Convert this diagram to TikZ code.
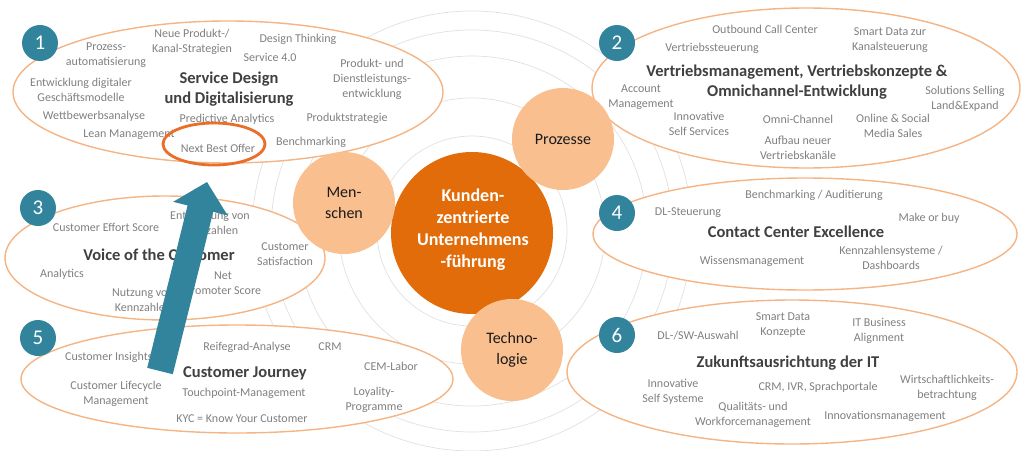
\documentclass[tikz,border=0pt]{standalone}
\usepackage{fontspec}
\setmainfont{Carlito}
\usetikzlibrary{shapes.geometric,calc}
\definecolor{mainorange}{RGB}{227,108,10}
\definecolor{peach}{RGB}{249,191,143}
\definecolor{edgeorange}{RGB}{245,180,132}
\definecolor{nboorange}{RGB}{233,110,40}
\definecolor{badgeteal}{RGB}{49,132,155}
\definecolor{txtgray}{RGB}{128,128,128}
\definecolor{ttlgray}{RGB}{64,64,64}
\definecolor{ringgray}{RGB}{224,224,224}
\definecolor{darktxt}{RGB}{26,26,26}
\begin{document}
\begin{tikzpicture}[x=1pt,y=-1pt,
  lbl/.style={text=txtgray, font=\fontsize{12}{15}\selectfont, align=center, inner sep=0pt},
  ttl/.style={text=ttlgray, font=\fontsize{16.5}{20}\selectfont\bfseries, align=center, inner sep=0pt},
  field/.style={ellipse, draw=edgeorange, line width=1.4pt, fill=white, inner sep=0pt},
  badge/.style={circle, fill=badgeteal, text=white, minimum size=36pt, inner sep=0pt, font=\fontsize{21}{21}\selectfont},
  pillar/.style={circle, fill=peach, minimum size=102pt, inner sep=0pt, align=center, font=\fontsize{16}{21}\selectfont, text=darktxt},
  ring/.style={draw=ringgray, line width=0.7pt}]
\useasboundingbox (0,0) rectangle (1024,450);
\clip (0,0) rectangle (1024,450);
% background rings
\coordinate (rc) at (472,231);
\foreach \r in {95,133,175,201,220} {\draw[ring] (rc) circle[radius=\r pt];}
% fields
\node[field, minimum width=430pt, minimum height=142pt] (e1) at (228,92) {};
\node[field, minimum width=428pt, minimum height=160pt] (e2) at (806,88) {};
\node[field, minimum width=320pt, minimum height=124pt] (e3) at (165,258) {};
\node[field, minimum width=424pt, minimum height=112pt] (e4) at (805,234) {};
\node[field, minimum width=432pt, minimum height=108pt] (e5) at (237,379) {};
\node[field, minimum width=450pt, minimum height=144pt] (e6) at (792,372) {};
% field 1
\node[lbl] (a1) at (106,55) {Prozess-\\automatisierung};
\node[lbl] (a2) at (192,42) {Neue Produkt-/\\Kanal-Strategien};
\node[lbl] (a3) at (298,39) {Design Thinking};
\node[lbl] (a4) at (270,57) {Service 4.0};
\node[lbl] (a5) at (372,79) {Produkt- und\\Dienstleistungs-\\entwicklung};
\node[lbl] (a6) at (81,90) {Entwicklung digitaler\\Geschäftsmodelle};
\node[ttl] (at) at (229,89) {Service Design\\und Digitalisierung};
\node[lbl] (a7) at (94,116) {Wettbewerbsanalyse};
\node[lbl] (a8) at (227,119) {Predictive Analytics};
\node[lbl] (a9) at (347,118) {Produktstrategie};
\node[lbl] (a10) at (129,135) {Lean Management};
\node[lbl] (a11) at (218,148) {Next Best Offer};
\node[lbl] (a12) at (311,142) {Benchmarking};
\node[ellipse, draw=nboorange, line width=2.8pt, minimum width=102pt, minimum height=42pt, inner sep=0pt] (nbo) at (214,144) {};
% field 2
\node[lbl] (b1) at (765,29) {Outbound Call Center};
\node[lbl] (b2) at (890,40) {Smart Data zur\\Kanalsteuerung};
\node[lbl] (b3) at (712,48) {Vertriebssteuerung};
\node[ttl] (bt) at (797,82) {Vertriebsmanagement, Vertriebskonzepte \&\\Omnichannel-Entwicklung};
\node[lbl] (b4) at (641,97) {Account\\Management};
\node[lbl] (b5) at (965,99) {Solutions Selling\\Land\&Expand};
\node[lbl] (b6) at (699,124) {Innovative\\Self Services};
\node[lbl] (b7) at (798,119) {Omni-Channel};
\node[lbl] (b8) at (893,126) {Online \& Social\\Media Sales};
\node[lbl] (b9) at (798,148) {Aufbau neuer\\Vertriebskanäle};
% field 3
\node[lbl] (c1) at (106,227) {Customer Effort Score};
\node[lbl] (c2) at (210,223) {Entwicklung von\\Kennzahlen};
\node[ttl] (ct) at (159,255) {Voice of the Customer};
\node[lbl] (c3) at (285,254) {Customer\\Satisfaction};
\node[lbl] (c4) at (62,274) {Analytics};
\node[lbl] (c5) at (223,283) {Net\\Promoter Score};
\node[lbl] (c6) at (143,300) {Nutzung von\\Kennzahlen};
% field 4
\node[lbl] (d1) at (814,195) {Benchmarking / Auditierung};
\node[lbl] (d2) at (688,213) {DL-Steuerung};
\node[lbl] (d3) at (929,218) {Make or buy};
\node[ttl] (dt) at (796,232) {Contact Center Excellence};
\node[lbl] (d4) at (752,261) {Wissensmanagement};
\node[lbl] (d5) at (891,258) {Kennzahlensysteme /\\Dashboards};
% field 5
\node[lbl, anchor=west] (f1) at (65,357) {Customer Insights};
\node[lbl] (f2) at (247,347) {Reifegrad-Analyse};
\node[lbl] (f3) at (330,347) {CRM};
\node[lbl] (f4) at (391,366) {CEM-Labor};
\node[ttl] (ft) at (245,373) {Customer Journey};
\node[lbl] (f5) at (116,394) {Customer Lifecycle\\Management};
\node[lbl] (f6) at (244,393) {Touchpoint-Management};
\node[lbl] (f7) at (374,400) {Loyality-\\Programme};
\node[lbl] (f8) at (242,419) {KYC = Know Your Customer};
% field 6
\node[lbl] (g1) at (698,336) {DL-/SW-Auswahl};
\node[lbl] (g2) at (783,325) {Smart Data\\Konzepte};
\node[lbl] (g3) at (879,331) {IT Business\\Alignment};
\node[ttl] (gt) at (788,363) {Zukunftsausrichtung der IT};
\node[lbl] (g4) at (673,392) {Innovative\\Self Systeme};
\node[lbl] (g5) at (818,387) {CRM, IVR, Sprachportale};
\node[lbl] (g6) at (947,388) {Wirtschaftlichkeits-\\betrachtung};
\node[lbl] (g7) at (753,415) {Qualitäts- und\\Workforcemanagement};
\node[lbl] (g8) at (885,416) {Innovationsmanagement};
% core and pillars
\node[circle, fill=mainorange, minimum size=162pt, inner sep=0pt] (core) at (472,233) {};
\node[text=white, font=\fontsize{18}{22}\selectfont\bfseries, align=center, inner sep=0pt] (coretxt) at (473,230) {Kunden-\\zentrierte\\Unternehmens\\-führung};
\node[pillar] (men) at (344,203) {Men-\\schen};
\node[pillar] (pro) at (563,139) {Prozesse};
\node[pillar] (tec) at (512,350) {Techno-\\logie};
% badges
\node[badge] (n1) at (40,43) {1};
\node[badge] (n2) at (617,43) {2};
\node[badge] (n3) at (38,208) {3};
\node[badge] (n4) at (617,213) {4};
\node[badge] (n5) at (38,338) {5};
\node[badge] (n6) at (617,335) {6};
% big arrow
\coordinate (tailL) at (147.2,367.8);
\coordinate (tailR) at (172.8,374.2);
\coordinate (shaftL) at (187.6,205.4);
\coordinate (shaftR) at (213.2,211.8);
\coordinate (barbL) at (173.2,201.8);
\coordinate (barbR) at (227.6,215.4);
\coordinate (tip) at (207,182);
\fill[badgeteal] (tailL) -- (shaftL) -- (barbL) -- (tip) -- (barbR) -- (shaftR) -- (tailR) -- cycle;
\end{tikzpicture}
\end{document}
